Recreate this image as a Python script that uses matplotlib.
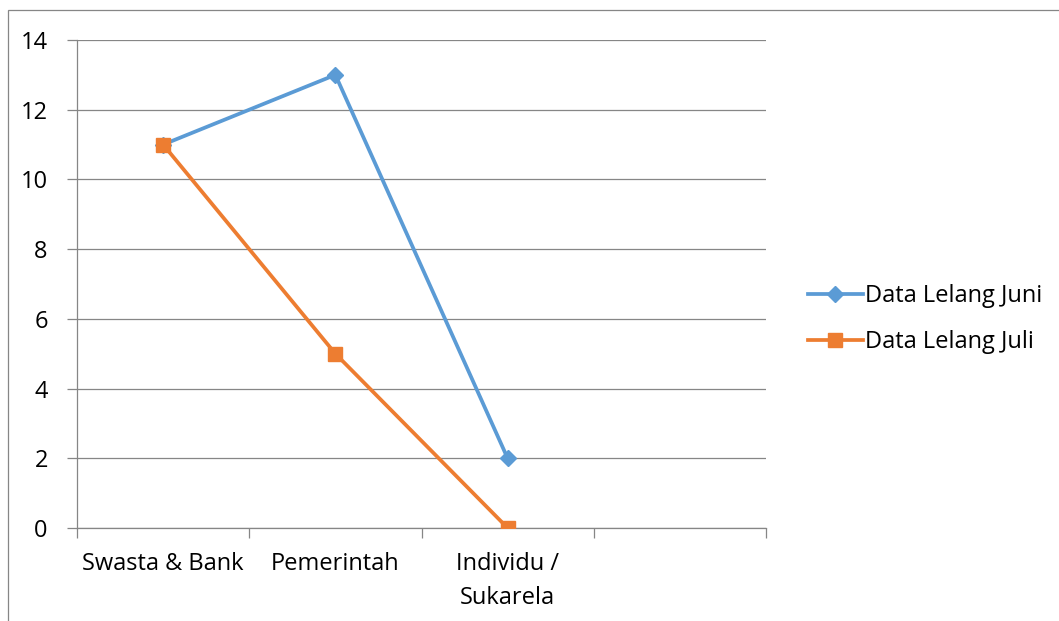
import matplotlib
matplotlib.use("Agg")
import matplotlib.pyplot as plt
from matplotlib.patches import Rectangle

# data
categories = ["Swasta & Bank", "Pemerintah", "Individu /\nSukarela", ""]
juni = [11, 13, 2]
juli = [11, 5, 0]
yticks = [0, 2, 4, 6, 8, 10, 12, 14]

GRID = "#868686"
BLUE = "#5B9BD5"
ORANGE = "#ED7D31"

plt.rcParams["font.family"] = ["Open Sans", "DejaVu Sans"]
plt.rcParams["font.size"] = 17

fig = plt.figure(figsize=(10.59, 6.21), dpi=100)

# outer chart frame
fig.patches.append(Rectangle((8 / 1059, -0.1), 1.2, 1 - 10 / 621 + 0.1,
                             transform=fig.transFigure, fill=False,
                             edgecolor=GRID, linewidth=0.9))

ax = fig.add_axes([77 / 1059, 93 / 621, 689 / 1059, 488 / 621])

x = range(len(juni))
ax.plot(x, juni, color=BLUE, lw=2.7, marker="D", ms=8, label="Data Lelang Juni", zorder=3)
ax.plot(list(range(len(juli))), juli, color=ORANGE, lw=2.7, marker="s", ms=10, label="Data Lelang Juli", zorder=4)

ax.set_xlim(-0.5, len(categories) - 0.5)
ax.set_ylim(0, 14)
ax.set_yticks(yticks)
ax.yaxis.grid(True, color=GRID, lw=0.9)
ax.set_axisbelow(True)

# category boundaries carry the tick marks, labels sit at the centres
ax.set_xticks([i - 0.5 for i in range(len(categories) + 1)])
ax.set_xticklabels([])
ax.set_xticks(range(len(categories)), minor=True)
ax.set_xticklabels(categories, minor=True, linespacing=1.55)
ax.tick_params(axis="x", which="minor", length=0, pad=17)
ax.tick_params(axis="x", which="major", length=7, color=GRID, width=0.9)
ax.tick_params(axis="y", length=7, color=GRID, width=0.9, pad=14)

for s in ["top", "right"]:
    ax.spines[s].set_visible(False)
for s in ["left", "bottom"]:
    ax.spines[s].set_color(GRID)
    ax.spines[s].set_linewidth(0.9)

fig.legend(loc="center left", bbox_to_anchor=(787 / 1059, 1 - 319 / 621),
           frameon=False, handlelength=2.3, handletextpad=0.1, labelspacing=0.95)

fig.savefig("out.png", dpi=100)
